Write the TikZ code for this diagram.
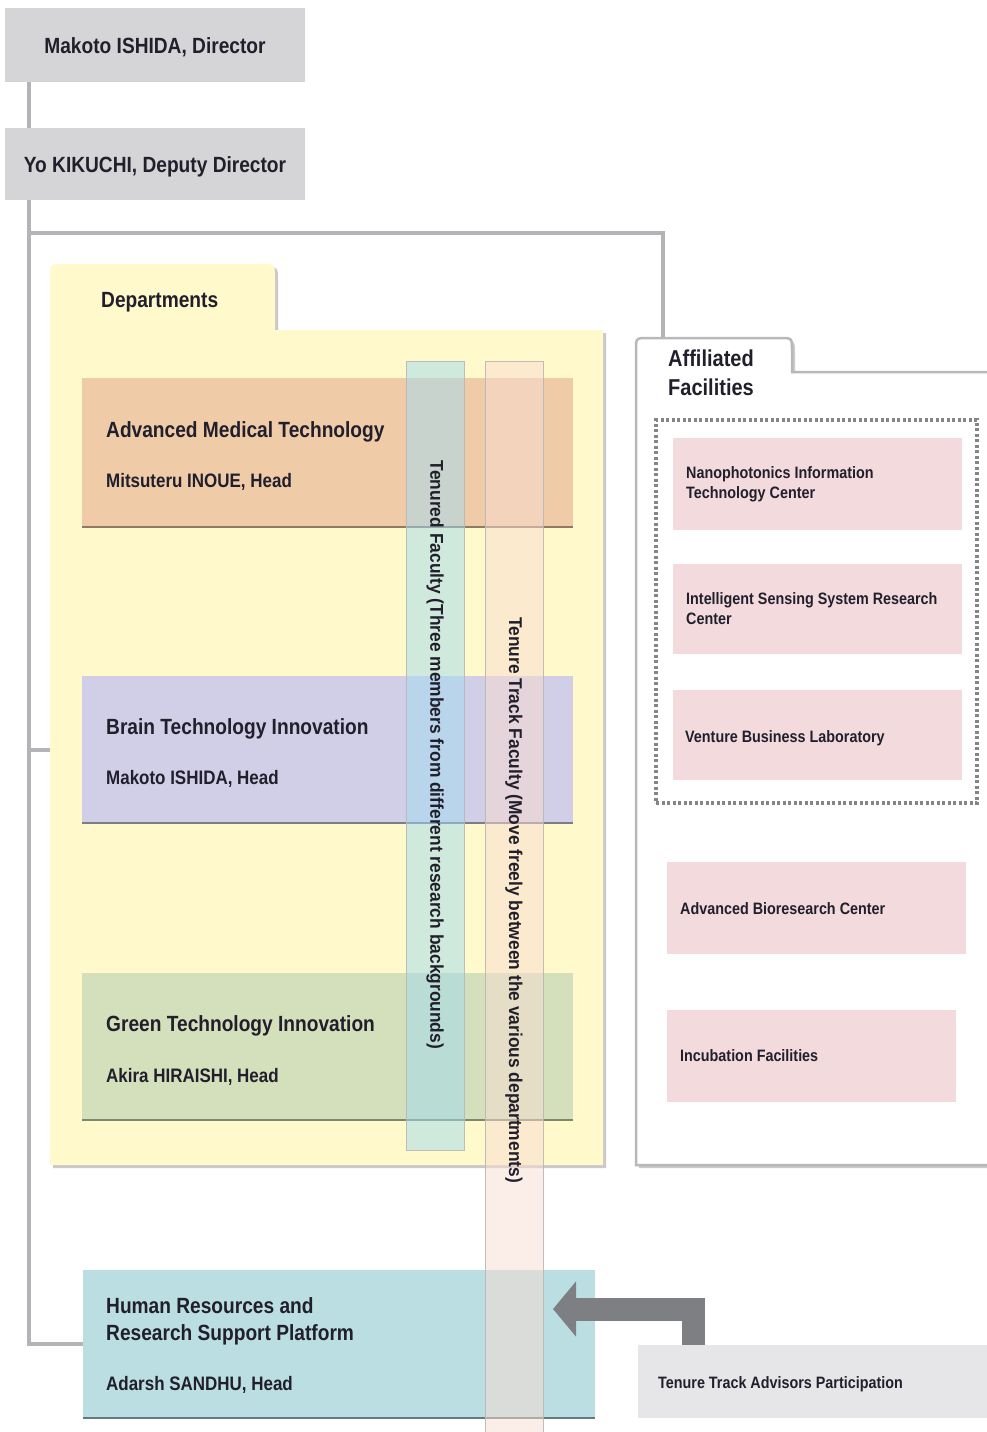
\documentclass[tikz,border=0pt]{standalone}
\usepackage{fontspec}
\newfontfamily\cf{Liberation Sans}[FakeStretch=0.87]
\newfontfamily\cfw{Liberation Sans}[FakeStretch=0.94]
\usetikzlibrary{shadows,arrows.meta}
\pgfdeclarelayer{bg}
\pgfsetlayers{bg,main}

\definecolor{ink}{HTML}{211F2C}
\definecolor{boxgray}{HTML}{D5D5D7}
\definecolor{linegray}{HTML}{B3B4B7}
\definecolor{folderyellow}{HTML}{FFF9CB}
\definecolor{amtcol}{HTML}{EFCBA8}
\definecolor{braincol}{HTML}{D1CEE7}
\definecolor{greencol}{HTML}{D4E0BB}
\definecolor{pinkcol}{HTML}{F3DADD}
\definecolor{hrcol}{HTML}{BADEE1}
\definecolor{advcol}{HTML}{E6E6E8}
\definecolor{arrowgray}{HTML}{7E7F83}
\definecolor{dotgray}{HTML}{858587}
\definecolor{tenuredcol}{HTML}{A0DCF0}
\definecolor{trackcol}{HTML}{F9DCD1}
\definecolor{colline}{HTML}{B8B8B8}
\definecolor{foldline}{HTML}{B8B8BA}

\begin{document}
\begin{tikzpicture}[x=1pt,y=-1pt,
  box/.style={anchor=north west,inner sep=0pt,outer sep=0pt,draw=none},
  conn/.style={draw=linegray,line width=3.5pt},
  lbl/.style={inner sep=0pt,text=ink,anchor=base west},
  title/.style={lbl,font=\cf\bfseries\fontsize{22}{26}\selectfont},
  head/.style={lbl,font=\cf\bfseries\fontsize{19.5}{23}\selectfont},
  small/.style={lbl,font=\cf\bfseries\fontsize{16.5}{20}\selectfont,align=left},
  coltext/.style={inner sep=0pt,text=ink,font=\cfw\bfseries\fontsize{18.5}{20}\selectfont,rotate=-90},
  column/.style={box,fill opacity=0.5,draw=colline,draw opacity=0.9,line width=1pt},
  folder/.style={drop shadow={shadow xshift=3pt,shadow yshift=-3pt,opacity=0.35,fill=black!60}}
]
\useasboundingbox (0,0) rectangle (987,1432);

% Director and deputy
\node[box,fill=boxgray,minimum width=300pt,minimum height=74pt] (dir) at (5,8) {};
\node[title,anchor=base] (dirT) at (155,53) {Makoto ISHIDA, Director};
\node[box,fill=boxgray,minimum width=300pt,minimum height=72pt] (dep) at (5,128) {};
\node[title,anchor=base] (depT) at (155,172) {Yo KIKUCHI, Deputy Director};

% Departments folder
\path[fill=folderyellow,folder] (50,1165) -- (50,278) .. controls (50,264) .. (64,264)
  -- (261,264) .. controls (275,264) .. (275,278) -- (275,330) -- (603,330) -- (603,1165) -- cycle;
\coordinate (deptleft) at (50,750);
\node[title] (deptT) at (101,307) {Departments};

% Department boxes
\node[box,fill=amtcol,minimum width=491pt,minimum height=149pt] (amt) at (82,378) {};
\draw[amtcol!60!black,line width=1.2pt] (amt.south west) -- (amt.south east);
\node[title] (amtT) at (106,437) {Advanced Medical Technology};
\node[head] (amtH) at (106,487) {Mitsuteru INOUE, Head};

\node[box,fill=braincol,minimum width=491pt,minimum height=147pt] (brain) at (82,676) {};
\draw[braincol!60!black,line width=1.2pt] (brain.south west) -- (brain.south east);
\node[title] (brainT) at (106,734) {Brain Technology Innovation};
\node[head] (brainH) at (106,784) {Makoto ISHIDA, Head};

\node[box,fill=greencol,minimum width=491pt,minimum height=147pt] (green) at (82,973) {};
\draw[greencol!60!black,line width=1.2pt] (green.south west) -- (green.south east);
\node[title] (greenT) at (106,1031) {Green Technology Innovation};
\node[head] (greenH) at (106,1082) {Akira HIRAISHI, Head};

% Affiliated facilities folder
\path[fill=white,draw=foldline,line width=2.5pt,folder] (636,1165) -- (636,350) .. controls (636,338) .. (648,338)
  -- (780,338) .. controls (792,338) .. (792,350) -- (792,372) -- (992,372) -- (992,1165) -- cycle;
\coordinate (afftab) at (663,338);
\node[lbl,font=\cf\bfseries\fontsize{23}{29}\selectfont,align=left,anchor=north west] (affT) at (668,350) {Affiliated\\Facilities};

\node[box,draw=dotgray,line width=3.5pt,dash pattern=on 3pt off 2.5pt,minimum width=321pt,minimum height=383pt] (aff) at (656,420) {};

\node[box,fill=pinkcol,minimum width=289pt,minimum height=92pt] (nano) at (673,438) {};
\node[small,anchor=north west] (nanoT) at (686,466) {Nanophotonics Information\\Technology Center};
\node[box,fill=pinkcol,minimum width=289pt,minimum height=90pt] (iss) at (673,564) {};
\node[small,anchor=north west] (issT) at (686,592) {Intelligent Sensing System Research\\Center};
\node[box,fill=pinkcol,minimum width=289pt,minimum height=90pt] (vbl) at (673,690) {};
\node[small] (vblT) at (685,742) {Venture Business Laboratory};

\node[box,fill=pinkcol,minimum width=299pt,minimum height=92pt] (abc) at (667,862) {};
\node[small] (abcT) at (680,914) {Advanced Bioresearch Center};
\node[box,fill=pinkcol,minimum width=289pt,minimum height=92pt] (incub) at (667,1010) {};
\node[small] (incubT) at (680,1061) {Incubation Facilities};

% Human resources platform and advisors
\node[box,fill=hrcol,minimum width=512pt,minimum height=148pt] (hr) at (83,1270) {};
\draw[hrcol!55!black,line width=1.5pt] (hr.south west) -- (hr.south east);
\node[title,align=left,anchor=north west,font=\cf\bfseries\fontsize{22}{27}\selectfont] (hrT) at (106,1297) {Human Resources and\\Research Support Platform};
\node[head] (hrH) at (106,1390) {Adarsh SANDHU, Head};

\node[box,fill=advcol,minimum width=352pt,minimum height=73pt] (adv) at (638,1345) {};
\node[small] (advT) at (658,1388) {Tenure Track Advisors Participation};

% Faculty columns crossing the departments
\node[column,fill=tenuredcol,minimum width=58pt,minimum height=789pt] (tenured) at (406,361) {};
\node[coltext] (tenuredT) at (435,755) {Tenured Faculty (Three members from different research backgrounds)};
\node[column,fill=trackcol,minimum width=58pt,minimum height=1075pt] (track) at (485,361) {};
\node[coltext] (trackT) at (514,900) {Tenure Track Faculty (Move freely between the various departments)};

% Advisors feed into the platform
\coordinate (arrowtip) at (553,1309);
\draw[arrowgray,line width=23pt,-{Triangle[length=23pt,width=54pt]}] (adv.north -| 693,0) -- (693,1309) -- (arrowtip);

% Organisational lines
\begin{pgfonlayer}{bg}
\fill[white] (0,0) rectangle (987,1432);
\coordinate (trunk) at (29,0);
\coordinate (split) at (29,233);
\draw[conn] (dir.south -| trunk) -- (trunk |- hr.west) -- (hr.west);
\draw[conn] (split) -- (split -| afftab) -- (afftab);
\draw[conn] (trunk |- deptleft) -- (deptleft);
\end{pgfonlayer}
\end{tikzpicture}
\end{document}
